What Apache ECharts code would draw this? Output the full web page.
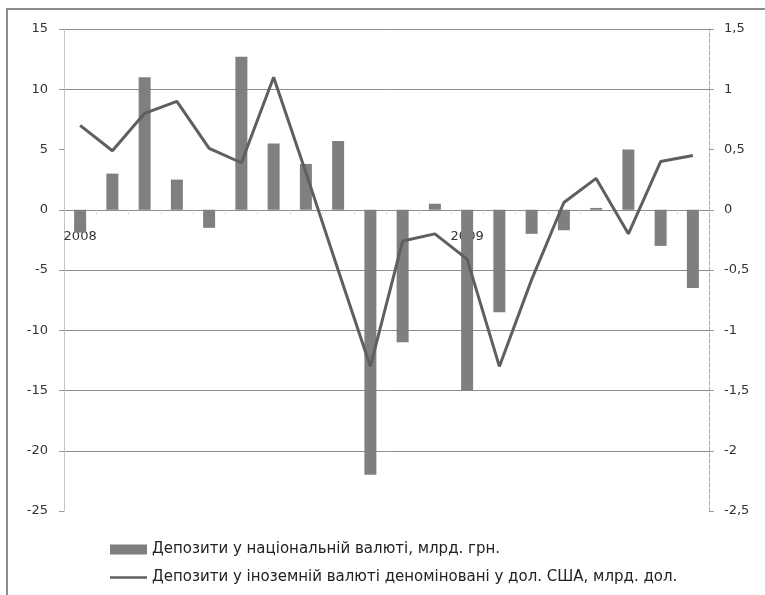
<!DOCTYPE html>
<html>
<head>
<meta charset="utf-8">
<style>
  html, body { margin: 0; padding: 0; background: #fff; }
  #chart { width: 765px; height: 595px; }
</style>
<script src="https://cdn.jsdelivr.net/npm/echarts@6/dist/echarts.min.js"></script>
</head>
<body>
<div id="chart"></div>
<script>
// Monthly changes in deposits, January 2008 – August 2009
const categories = [
  '2008', '', '', '', '', '', '', '', '', '', '', '',
  '2009', '', '', '', '', '', '', ''
];
// Deposits in national currency, bn UAH (left axis)
const uahDeposits = [-1.9, 3.0, 11.0, 2.5, -1.5, 12.7, 5.5, 3.8, 5.7, -22.0,
  -11.0, 0.5, -15.0, -8.5, -2.0, -1.7, 0.15, 5.0, -3.0, -6.5];
// Deposits in foreign currency, bn USD (right axis)
const usdDeposits = [0.70, 0.49, 0.80, 0.90, 0.51, 0.39, 1.10, 0.31, -0.50, -1.30,
  -0.26, -0.20, -0.41, -1.30, -0.58, 0.06, 0.26, -0.20, 0.40, 0.45];
const leftTicks = { min: -25, max: 15, step: 5 };
const rightTicks = { min: -2.5, max: 1.5, step: 0.5 };

const barName = 'Депозити у національній валюті, млрд. грн.';
const lineName = 'Депозити у іноземній валюті деноміновані у дол. США, млрд. дол.';

const font = 'DejaVu Sans';
const commaNum = v => String(v).replace('.', ',');

// Plot area
const gridBox = { left: 64, right: 56, top: 29, bottom: 84 };
const plotHeight = 595 - gridBox.top - gridBox.bottom;
// Lift the category axis from the bottom edge up to the zero level of the left scale
const zeroLift = -plotHeight * (0 - leftTicks.min) / (leftTicks.max - leftTicks.min);

// Gridline colours per tick of the left scale; the zero level carries no gridline
const gridGray = '#8c8c8c';
const gridColors = [];
for (let v = leftTicks.min; v <= leftTicks.max; v += leftTicks.step) {
  gridColors.push(v === 0 ? 'rgba(0,0,0,0)' : gridGray);
}

const chart = echarts.init(document.getElementById('chart'), null, { renderer: 'canvas' });
chart.setOption({
  animation: false,
  backgroundColor: '#fff',
  textStyle: { fontFamily: font },
  graphic: [{
    type: 'rect',
    shape: { x: 7, y: 9, width: 800, height: 620 },
    style: { fill: 'none', stroke: '#8c8c8c', lineWidth: 2 },
    silent: true
  }],
  grid: Object.assign({ containLabel: false }, gridBox),
  legend: {
    orient: 'vertical',
    left: 105,
    top: 537,
    itemGap: 13,
    itemWidth: 37,
    itemHeight: 10,
    textStyle: { fontFamily: font, fontSize: 15, color: '#222' },
    data: [
      { name: barName, icon: 'rect' },
      { name: lineName, icon: 'path://M0,4 L40,4 L40,6.5 L0,6.5 Z' }
    ]
  },
  xAxis: {
    type: 'category',
    data: categories,
    boundaryGap: true,
    offset: zeroLift,
    axisLine: { show: true, onZero: false, lineStyle: { color: 'rgba(0,0,0,0)' } },
    axisTick: { show: true, length: 5, lineStyle: { color: '#c8c8c8', type: 'dotted' } },
    axisLabel: {
      interval: 0, margin: 20, fontSize: 13, color: '#333', fontFamily: font
    },
    splitLine: { show: false }
  },
  yAxis: [{
    type: 'value',
    min: leftTicks.min, max: leftTicks.max, interval: leftTicks.step,
    axisLine: { show: true, lineStyle: { color: '#c4c4c4', width: 1 } },
    axisTick: { show: true, length: 5, lineStyle: { color: '#999' } },
    axisLabel: { margin: 16, fontSize: 13, color: '#333', fontFamily: font, formatter: commaNum },
    splitLine: { show: true, showMinLine: false, lineStyle: { color: gridColors, width: 1 } }
  }, {
    type: 'value',
    min: rightTicks.min, max: rightTicks.max, interval: rightTicks.step,
    axisLine: { show: true, lineStyle: { color: '#aaa', width: 1, type: 'dashed' } },
    axisTick: { show: true, length: 5, lineStyle: { color: '#999' } },
    axisLabel: { margin: 15, fontSize: 13, color: '#333', fontFamily: font, formatter: commaNum },
    splitLine: { show: false }
  }],
  series: [{
    name: barName,
    type: 'bar',
    yAxisIndex: 0,
    data: uahDeposits,
    barWidth: 12,
    itemStyle: { color: '#7f7f7f' }
  }, {
    name: lineName,
    type: 'line',
    yAxisIndex: 1,
    data: usdDeposits,
    symbol: 'none',
    lineStyle: { color: '#5f5f5f', width: 3 },
    itemStyle: { color: '#5f5f5f' },
    z: 3
  }]
});
</script>
</body>
</html>
